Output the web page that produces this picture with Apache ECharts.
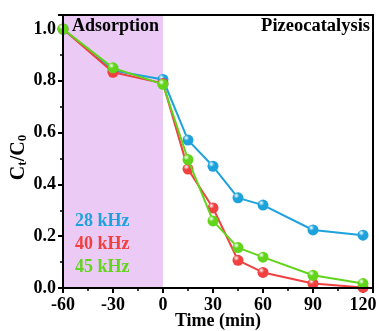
<!DOCTYPE html>
<html><head><meta charset="utf-8">
<script src="https://cdn.jsdelivr.net/npm/echarts@6/dist/echarts.min.js"></script>
<style>html,body{margin:0;padding:0;background:#fff}#c{width:379px;height:331px}</style>
</head><body><div id="c"></div>
<script>
const times = [-60, -30, 0, 15, 30, 45, 60, 90, 120];
const s28 = [1.0, 0.84, 0.805, 0.571, 0.47, 0.348, 0.32, 0.224, 0.204];
const s40 = [1.0, 0.833, 0.79, 0.459, 0.309, 0.107, 0.06, 0.017, 0.002];
const s45 = [1.0, 0.85, 0.786, 0.496, 0.259, 0.156, 0.119, 0.049, 0.017];
const names = ['28 kHz', '40 kHz', '45 kHz'];
const colors = ['#1ea2dc', '#f0403f', '#62d41c'];
const font = '"Liberation Serif", "Times New Roman", serif';

function ball(c) {
  return {type: 'radial', x: 0.35, y: 0.3, r: 0.75,
    colorStops: [{offset: 0, color: '#ffffff'}, {offset: 0.35, color: c}, {offset: 1, color: c}]};
}
const allData = [s28, s40, s45];
const series = allData.map((d, i) => ({
  name: names[i], type: 'line', data: times.map((t, k) => [t, d[k]]),
  symbol: 'circle', symbolSize: 11, z: 3 + i,
  lineStyle: {color: colors[i], width: 2},
  itemStyle: {color: ball(colors[i]), borderWidth: 0}
}));
series[0].markArea = {silent: true, itemStyle: {color: '#ebcbf5'}, data: [[{xAxis: -60}, {xAxis: 0}]]};

const chart = echarts.init(document.getElementById('c'));
chart.setOption({
  animation: false,
  grid: {left: 63, top: 15, right: 6, bottom: 43, show: true, borderColor: '#000', borderWidth: 2, z: 10,
    containLabel: false, outerBoundsMode: 'none'},
  xAxis: {type: 'value', min: -60, max: 126, interval: 30,
    axisLine: {lineStyle: {color: '#000', width: 2}},
    axisTick: {length: 5, lineStyle: {width: 2}},
    minorTick: {show: true, splitNumber: 2, length: 3, lineStyle: {color: '#000', width: 1.5}},
    splitLine: {show: false},
    axisLabel: {showMaxLabel: false, color: '#000', fontFamily: font, fontWeight: 'bold', fontSize: 18, margin: 8},
    name: 'Time (min)', nameLocation: 'middle', nameGap: 24, nameMoveOverlap: false,
    nameTextStyle: {color: '#000', fontFamily: font, fontWeight: 'bold', fontSize: 18}
  },
  yAxis: {type: 'value', min: 0, max: 1.054, interval: 0.2,
    axisLine: {onZero: false, lineStyle: {color: '#000', width: 2}},
    axisTick: {length: 5, lineStyle: {width: 2}},
    minorTick: {show: true, splitNumber: 2, length: 3, lineStyle: {color: '#000', width: 1.5}},
    splitLine: {show: false},
    axisLabel: {showMaxLabel: false, color: '#000', fontFamily: font, fontWeight: 'bold', fontSize: 18, margin: 7,
      formatter: v => v.toFixed(1)},
    name: '{a|C}{s|t}{a|/C}{s|0}', nameLocation: 'middle', nameGap: 34, nameRotate: 90, nameMoveOverlap: false,
    nameTextStyle: {color: '#000', fontFamily: font, fontWeight: 'bold', fontSize: 19, padding: [0, 0, 0, -12],
      rich: {a: {fontFamily: font, fontWeight: 'bold', fontSize: 20, color: '#000', verticalAlign: 'bottom', lineHeight: 22},
             s: {fontFamily: font, fontWeight: 'bold', fontSize: 13, color: '#000', verticalAlign: 'bottom', lineHeight: 16}}}
  },
  series: series,
  graphic: [
    {type: 'text', z: 100, left: 72, top: 17, style: {text: 'Adsorption', font: 'bold 18px ' + font, fill: '#000'}},
    {type: 'text', z: 100, right: 9, top: 17, style: {text: 'Pizeocatalysis', font: 'bold 18.5px ' + font, fill: '#000'}},
    ...names.map((n, i) => ({type: 'text', z: 100, left: 75, top: 212 + i * 23,
      style: {text: n, font: 'bold 18px ' + font, fill: colors[i]}}))
  ]
});
</script></body></html>
